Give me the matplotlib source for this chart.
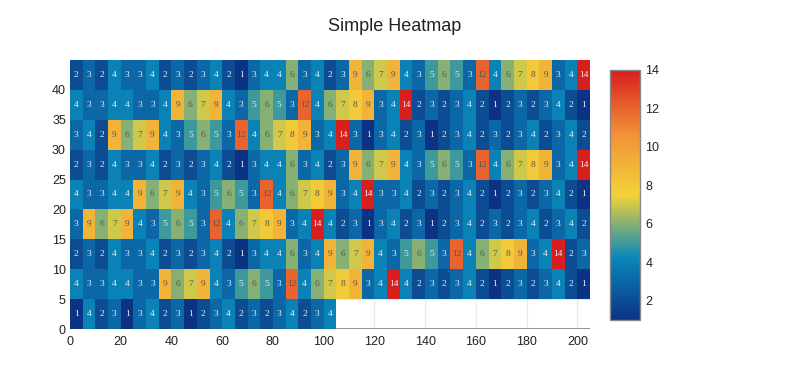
import numpy as np
import matplotlib
matplotlib.use('Agg')
import matplotlib.pyplot as plt
from matplotlib.colors import LinearSegmentedColormap

# rows listed from top (y = 40..45) down to bottom (y = 0..5)
ROW_40 = [2, 3, 2, 4, 3, 3, 4, 2, 3, 2, 3, 4, 2, 1, 3, 4, 4, 6, 3, 4, 2,
          3, 9, 6, 7, 9, 4, 3, 5, 6, 5, 3, 12, 4, 6, 7, 8, 9, 3, 4, 14]
ROW_35 = [4, 3, 3, 4, 4, 3, 3, 4, 9, 6, 7, 9, 4, 3, 5, 6, 5, 3, 12, 4, 6,
          7, 8, 9, 3, 4, 14, 2, 3, 2, 3, 4, 2, 1, 2, 3, 2, 3, 4, 2, 1]
ROW_30 = [3, 4, 2, 9, 6, 7, 9, 4, 3, 5, 6, 5, 3, 12, 4, 6, 7, 8, 9, 3, 4,
          14, 3, 1, 3, 4, 2, 3, 1, 2, 3, 4, 2, 3, 2, 3, 4, 2, 3, 4, 2]
ROW_25 = [2, 3, 2, 4, 3, 3, 4, 2, 3, 2, 3, 4, 2, 1, 3, 4, 4, 6, 3, 4, 2,
          3, 9, 6, 7, 9, 4, 3, 5, 6, 5, 3, 12, 4, 6, 7, 8, 9, 3, 4, 14]
ROW_20 = [4, 3, 3, 4, 4, 9, 6, 7, 9, 4, 3, 5, 6, 5, 3, 12, 4, 6, 7, 8, 9,
          3, 4, 14, 3, 3, 4, 2, 3, 2, 3, 4, 2, 1, 2, 3, 2, 3, 4, 2, 1]
ROW_15 = [3, 9, 6, 7, 9, 4, 3, 5, 6, 5, 3, 12, 4, 6, 7, 8, 9, 3, 4, 14, 4,
          2, 3, 1, 3, 4, 2, 3, 1, 2, 3, 4, 2, 3, 2, 3, 4, 2, 3, 4, 2]
ROW_10 = [2, 3, 2, 4, 3, 3, 4, 2, 3, 2, 3, 4, 2, 1, 3, 4, 4, 6, 3, 4, 9,
          6, 7, 9, 4, 3, 5, 6, 5, 3, 12, 4, 6, 7, 8, 9, 3, 4, 14, 2, 3]
ROW_5 = [4, 3, 3, 4, 4, 3, 3, 9, 6, 7, 9, 4, 3, 5, 6, 5, 3, 12, 4, 6, 7,
         8, 9, 3, 4, 14, 4, 2, 3, 2, 3, 4, 2, 1, 2, 3, 2, 3, 4, 2, 1]
ROW_0 = [1, 4, 2, 3, 1, 3, 4, 2, 3, 1, 2, 3, 4, 2, 3, 2, 3, 4, 2, 3, 4]

ROWS = [ROW_0, ROW_5, ROW_10, ROW_15, ROW_20, ROW_25, ROW_30, ROW_35, ROW_40]
CELL = 5
X_TICKS = list(range(0, 201, 20))
Y_TICKS = list(range(0, 41, 5))
CBAR_TICKS = [2, 4, 6, 8, 10, 12, 14]

# plotly "Portland" scale
portland = LinearSegmentedColormap.from_list('portland', [
    (0.0, (12/255, 51/255, 131/255)),
    (0.25, (10/255, 136/255, 186/255)),
    (0.5, (242/255, 211/255, 56/255)),
    (0.75, (242/255, 143/255, 56/255)),
    (1.0, (217/255, 30/255, 30/255)),
])

ncols = max(len(r) for r in ROWS)
z = np.full((len(ROWS), ncols), np.nan)
for i, r in enumerate(ROWS):
    z[i, :len(r)] = r
z = np.ma.masked_invalid(z)

xe = np.arange(ncols + 1) * CELL
ye = np.arange(len(ROWS) + 1) * CELL

plt.rcParams['font.family'] = ['Liberation Sans', 'DejaVu Sans']
fig = plt.figure(figsize=(7.9, 3.9), dpi=100)
ax = fig.add_axes([70/790, 61/390, 520/790, 269/390])

ax.set_xlim(0, 205)
ax.set_ylim(0, 45)
ax.set_xticks(X_TICKS)
ax.set_yticks(Y_TICKS)
ax.grid(True, color='#ebebeb', linewidth=1)
ax.set_axisbelow(True)
for s in ax.spines.values():
    s.set_visible(False)
ax.axhline(0, color='#888888', linewidth=2, zorder=1)
ax.tick_params(length=0, labelsize=9, colors='#222222')
ax.tick_params(axis='x', pad=5)
ax.tick_params(axis='y', pad=3)

mesh = ax.pcolormesh(xe, ye, z, cmap=portland, vmin=1, vmax=14, zorder=2)

norm = plt.Normalize(1, 14)
for i, r in enumerate(ROWS):
    for j, v in enumerate(r):
        c = portland(norm(v))
        lum = 0.299 * c[0] + 0.587 * c[1] + 0.114 * c[2]
        tc = '#555555' if lum > 0.5 else '#e8eef5'
        ax.text(xe[j] + CELL / 2, ye[i] + CELL / 2, str(v), ha='center',
                va='center', fontsize=6.8, color=tc,
                family=['Liberation Serif', 'DejaVu Serif'], zorder=3)

cax = fig.add_axes([610/790, 70/390, 30/790, 250/390])
cb = fig.colorbar(mesh, cax=cax, ticks=CBAR_TICKS)
cb.outline.set_edgecolor('#888888')
cb.outline.set_linewidth(1)
cax.tick_params(length=0, labelsize=9, colors='#222222', pad=4)

fig.suptitle('Simple Heatmap', x=0.5, y=0.955, fontsize=13, color='#222222')

fig.savefig('out.png', dpi=100)
